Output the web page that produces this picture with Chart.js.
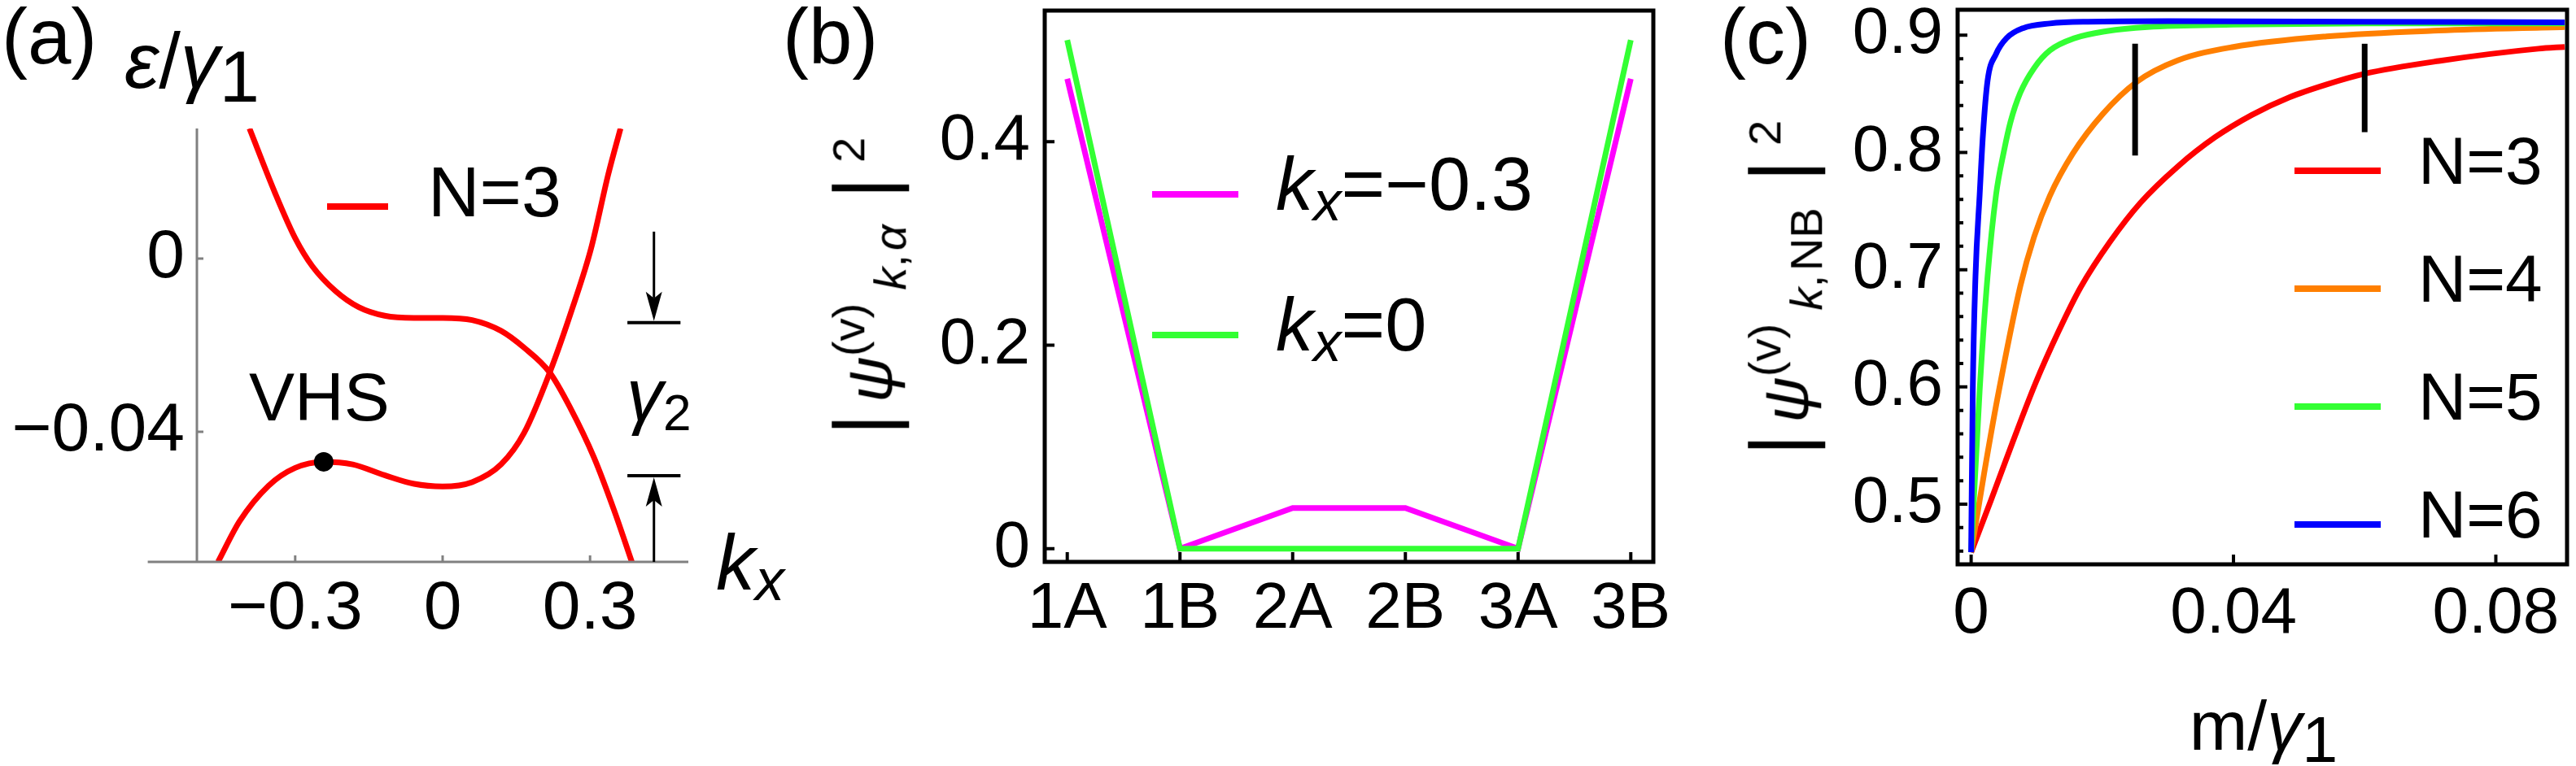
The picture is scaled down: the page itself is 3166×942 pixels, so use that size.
<!DOCTYPE html>
<html>
<head>
<meta charset="utf-8">
<script src="https://cdn.jsdelivr.net/npm/chart.js@4/dist/chart.umd.min.js"></script>
<style>
  html, body { margin: 0; padding: 0; background: #fff; }
  #fig { position: relative; width: 3166px; height: 942px; overflow: hidden;
         font-family: "Liberation Sans", Arial, sans-serif; color: #000; }
  #fig canvas { position: absolute; top: 0; }
  .t { position: absolute; white-space: nowrap; line-height: 1; }
  .t i { font-style: italic; }
  .sub { position: relative; font-size: 0.72em; top: 0.3em; }
  .sup { position: relative; font-size: 0.72em; top: -0.6em; }
  .bar { font-size: 1.3em; }
  .sw { position: absolute; }
</style>
</head>
<body>
<div id="fig">
  <canvas id="chartA" width="1000" height="942" style="left:0px"></canvas>
  <canvas id="chartB" width="1000" height="942" style="left:1100px"></canvas>
  <canvas id="chartC" width="916" height="942" style="left:2250px"></canvas>
</div>
<script>
const FONT = '"Liberation Sans", Arial, sans-serif';

// (a) N=3 bands near the VHS
const kxUpper  = [-0.393, -0.342, -0.300, -0.265, -0.218, -0.171, -0.118, -0.058, 0.000, 0.060, 0.119, 0.166, 0.218, 0.260, 0.308, 0.349, 0.385];
const epsUpper = [0.0300, 0.0154, 0.0047, -0.0018, -0.0075, -0.0112, -0.0132, -0.0137, -0.0137, -0.0142, -0.0167, -0.0206, -0.0263, -0.0345, -0.0459, -0.0581, -0.0700];
const kxLower  = [-0.457, -0.413, -0.354, -0.300, -0.242, -0.183, -0.118, -0.058, 0.000, 0.060, 0.119, 0.166, 0.218, 0.266, 0.302, 0.337, 0.362];
const epsLower = [-0.0700, -0.0606, -0.0524, -0.0483, -0.0469, -0.0475, -0.0500, -0.0520, -0.0526, -0.0516, -0.0475, -0.0402, -0.0263, -0.0108, 0.0023, 0.0194, 0.0300];
const vhsPoint = [-0.242, -0.0469];
const gapLevels = [-0.0148, -0.0501];
const gapTails = [0.0062, -0.0700];
const gapX = 0.43;
const gapBar = [0.376, 0.484];
const aXTicks = [-0.3, 0, 0.3];
const aXLabels = ['\u22120.3', '0', '0.3'];
const aYTicks = [-0.04, 0];
const aYLabels = ['\u22120.04', '0'];

// (b) site weights
const sites = ['1A', '1B', '2A', '2B', '3A', '3B'];
const probKm03 = [0.462, 0, 0.040, 0.040, 0, 0.462];
const probK0 = [0.500, 0, 0, 0, 0, 0.500];
const bYTicks = [0, 0.2, 0.4];
const bYLabels = ['0', '0.2', '0.4'];

// (c) weight on the non-bonding sites vs m
const mN3 = [0, 0.003, 0.0064, 0.0098, 0.0133, 0.0167, 0.0212, 0.0258, 0.0315, 0.0372, 0.0428, 0.0485, 0.0542, 0.0599, 0.0713, 0.0865, 0.0905];
const pN3 = [0.459, 0.503, 0.554, 0.603, 0.647, 0.685, 0.724, 0.757, 0.788, 0.813, 0.832, 0.847, 0.858, 0.867, 0.878, 0.8885, 0.890];
const mN4 = [0, 0.002, 0.004, 0.0075, 0.0096, 0.012, 0.0155, 0.0201, 0.0252, 0.0315, 0.04, 0.0542, 0.0713, 0.0905];
const pN4 = [0.459, 0.527, 0.590, 0.686, 0.728, 0.763, 0.799, 0.833, 0.860, 0.8785, 0.890, 0.899, 0.904, 0.907];
const mN5 = [0, 0.0013, 0.0025, 0.0038, 0.005, 0.006, 0.0075, 0.0096, 0.012, 0.0158, 0.0207, 0.0269, 0.04, 0.06, 0.0905];
const pN5 = [0.459, 0.597, 0.694, 0.764, 0.801, 0.826, 0.851, 0.872, 0.887, 0.8975, 0.9035, 0.907, 0.909, 0.910, 0.910];
const mN6 = [0, 0.00025, 0.00066, 0.0013, 0.0018, 0.0025, 0.0038, 0.0054, 0.0079, 0.012, 0.0178, 0.03, 0.06, 0.0905];
const pN6 = [0.459, 0.597, 0.694, 0.764, 0.815, 0.861, 0.884, 0.8975, 0.906, 0.910, 0.9115, 0.912, 0.9115, 0.911];
const markerM = [0.025, 0.06];
const markerLo = [0.7973, 0.8173];
const markerHi = [0.8927, 0.8927];
const cXTicks = [0, 0.04, 0.08];
const cXLabels = ['0', '0.04', '0.08'];
const cYTicks = [0.5, 0.6, 0.7, 0.8, 0.9];
const cYLabels = ['0.5', '0.6', '0.7', '0.8', '0.9'];
const cYMinor = [0.46, 0.48, 0.52, 0.54, 0.56, 0.58, 0.62, 0.64, 0.66, 0.68, 0.72, 0.74, 0.76, 0.78, 0.82, 0.84, 0.86, 0.88];

function xy(xs, ys) {
  return xs.map((x, i) => ({ x: x, y: ys[i] }));
}

function curve(points, color) {
  return { data: points, showLine: true, borderColor: color, borderWidth: 7, pointRadius: 0,
           cubicInterpolationMode: 'monotone', fill: false };
}

function axis(min, max, ticks, labels, size, pad, fit, isX) {
  return {
    type: 'linear', min: min, max: max,
    border: { display: false },
    grid: { display: false, drawTicks: false, tickLength: 0 },
    afterBuildTicks: s => { s.ticks = ticks.map(v => ({ value: v })); },
    afterFit: s => {
      // fixed box size (labels get clipped to it), and no extra room asked for the end labels
      if (isX) { s.height = fit; s.paddingLeft = 0; s.paddingRight = 0; }
      else { s.width = fit; s.paddingTop = 0; s.paddingBottom = 0; }
    },
    ticks: {
      autoSkip: false, maxRotation: 0, minRotation: 0, padding: pad, color: '#000',
      font: { family: FONT, size: size },
      callback: v => labels[ticks.indexOf(v)]
    }
  };
}

function options(xAxis, yAxis, pad) {
  return {
    responsive: false, animation: false, events: [],
    layout: { padding: pad },
    plugins: { legend: { display: false }, tooltip: { enabled: false } },
    scales: { x: xAxis, y: yAxis }
  };
}

// inward ticks plus either a closed frame or open axes
function mmaAxes(cfg) {
  return {
    id: 'mmaAxes',
    afterDraw(chart) {
      const { ctx, chartArea: ca, scales: { x, y } } = chart;
      ctx.save();
      ctx.strokeStyle = cfg.color;
      ctx.lineWidth = cfg.tickWidth;
      ctx.beginPath();
      cfg.xTicks.forEach(v => {
        const px = x.getPixelForValue(v);
        ctx.moveTo(px, ca.bottom);
        ctx.lineTo(px, ca.bottom - cfg.major);
      });
      cfg.yTicks.forEach(v => {
        const py = y.getPixelForValue(v);
        ctx.moveTo(ca.left, py);
        ctx.lineTo(ca.left + cfg.major, py);
      });
      (cfg.yMinor || []).forEach(v => {
        const py = y.getPixelForValue(v);
        ctx.moveTo(ca.left, py);
        ctx.lineTo(ca.left + cfg.minor, py);
      });
      ctx.stroke();
      ctx.lineWidth = cfg.lineWidth;
      if (cfg.frame) {
        ctx.strokeRect(ca.left, ca.top, ca.right - ca.left, ca.bottom - ca.top);
      } else {
        ctx.beginPath();
        ctx.moveTo(x.getPixelForValue(cfg.xFrom), ca.bottom);
        ctx.lineTo(ca.right, ca.bottom);
        ctx.moveTo(ca.left, ca.bottom);
        ctx.lineTo(ca.left, ca.top);
        ctx.stroke();
      }
      ctx.restore();
    }
  };
}

const gapArrows = {
  id: 'gapArrows',
  afterDraw(chart) {
    const { ctx, scales: { x, y } } = chart;
    const px = x.getPixelForValue(gapX);
    const x1 = x.getPixelForValue(gapBar[0]);
    const x2 = x.getPixelForValue(gapBar[1]);
    ctx.save();
    ctx.strokeStyle = '#000';
    ctx.fillStyle = '#000';
    gapLevels.forEach((lvl, i) => {
      const yb = y.getPixelForValue(lvl);
      const yt = y.getPixelForValue(gapTails[i]);
      const dir = yb > yt ? 1 : -1;
      ctx.lineWidth = 4;
      ctx.beginPath();
      ctx.moveTo(x1, yb);
      ctx.lineTo(x2, yb);
      ctx.stroke();
      ctx.lineWidth = 3;
      ctx.beginPath();
      ctx.moveTo(px, yt);
      ctx.lineTo(px, yb - dir * 30);
      ctx.stroke();
      ctx.beginPath();
      ctx.moveTo(px, yb - dir * 2);
      ctx.lineTo(px - 10, yb - dir * 38);
      ctx.lineTo(px, yb - dir * 30);
      ctx.lineTo(px + 10, yb - dir * 38);
      ctx.closePath();
      ctx.fill();
    });
    ctx.restore();
  }
};

// panel (a)
new Chart(document.getElementById('chartA'), {
  type: 'scatter',
  data: {
    datasets: [
      { data: [{ x: vhsPoint[0], y: vhsPoint[1] }], pointRadius: 12, pointBackgroundColor: '#000',
        pointBorderWidth: 0, showLine: false },
      curve(xy(kxUpper, epsUpper), '#ff0000'),
      curve(xy(kxLower, epsLower), '#ff0000')
    ]
  },
  options: options(
    axis(-0.5, 0.5, aXTicks, aXLabels, 84, 8, 120, true),
    axis(-0.07, 0.03, aYTicks, aYLabels, 84, 15, 238, false),
    { left: 4, right: 154, top: 158, bottom: 131 }
  ),
  plugins: [
    mmaAxes({ frame: false, color: '#808080', lineWidth: 3, tickWidth: 3, major: 8,
              xTicks: aXTicks, yTicks: aYTicks, xFrom: -0.6 }),
    gapArrows
  ]
});

// panel (b)
new Chart(document.getElementById('chartB'), {
  type: 'scatter',
  data: {
    datasets: [
      { data: xy(sites.map((s, i) => i), probK0), showLine: true, borderColor: '#33ff33', borderWidth: 7,
        pointRadius: 0, tension: 0 },
      { data: xy(sites.map((s, i) => i), probKm03), showLine: true, borderColor: '#ff00ff', borderWidth: 7,
        pointRadius: 0, tension: 0 }
    ]
  },
  options: options(
    axis(-0.2, 5.2, sites.map((s, i) => i), sites, 80, 11, 120, true),
    axis(-0.013, 0.529, bYTicks, bYLabels, 80, 18, 150, false),
    { left: 34, right: 68, top: 13, bottom: 131 }
  ),
  plugins: [
    mmaAxes({ frame: true, color: '#000', lineWidth: 5, tickWidth: 4, major: 12,
              xTicks: sites.map((s, i) => i), yTicks: bYTicks })
  ]
});

// panel (c)
new Chart(document.getElementById('chartC'), {
  type: 'scatter',
  data: {
    datasets: [
      { data: [{ x: markerM[0], y: markerLo[0] }, { x: markerM[0], y: markerHi[0] }], showLine: true,
        borderColor: '#000', borderWidth: 7, pointRadius: 0 },
      { data: [{ x: markerM[1], y: markerLo[1] }, { x: markerM[1], y: markerHi[1] }], showLine: true,
        borderColor: '#000', borderWidth: 7, pointRadius: 0 },
      curve(xy(mN6, pN6), '#0000ff'),
      curve(xy(mN5, pN5), '#33ff33'),
      curve(xy(mN4, pN4), '#ff7f00'),
      curve(xy(mN3, pN3), '#ff0000')
    ]
  },
  options: options(
    axis(-0.00206, 0.09086, cXTicks, cXLabels, 80, 14, 120, true),
    axis(0.4487, 0.9217, cYTicks, cYLabels, 80, 18, 130, false),
    { left: 26, right: 11, top: 12, bottom: 128 }
  ),
  plugins: [
    mmaAxes({ frame: true, color: '#000', lineWidth: 5, tickWidth: 4, major: 12, minor: 7,
              xTicks: cXTicks, yTicks: cYTicks, yMinor: cYMinor })
  ]
});

// text and legends
const fig = document.getElementById('fig');

function put(html, x, base, size, align) {
  const d = document.createElement('div');
  d.className = 't';
  d.style.fontSize = size + 'px';
  d.style.left = x + 'px';
  // with line-height 1, Liberation Sans puts the baseline 0.8465em below the box top
  d.style.top = (base - 0.8465 * size) + 'px';
  if (align === 'center') d.style.transform = 'translateX(-50%)';
  d.innerHTML = html;
  fig.appendChild(d);
}

function putRot(html, cx, cy, size) {
  const d = document.createElement('div');
  d.className = 't';
  d.style.fontSize = size + 'px';
  d.style.left = cx + 'px';
  d.style.top = cy + 'px';
  d.style.transform = 'translate(-50%, -50%) rotate(-90deg)';
  d.innerHTML = html;
  fig.appendChild(d);
}

function swatch(x1, x2, y, color) {
  const d = document.createElement('div');
  d.className = 'sw';
  d.style.left = x1 + 'px';
  d.style.top = (y - 4) + 'px';
  d.style.width = (x2 - x1) + 'px';
  d.style.height = '8px';
  d.style.background = color;
  fig.appendChild(d);
}

const kx = '<i>k</i><span style="position:relative;top:0.19em;font-size:0.75em"><i>x</i></span>';

put('(a)', 2, 78, 96);
put('(b)', 962, 78, 96);
put('(c)', 2114, 78, 96);

put('<i>\u03b5</i>/<i>\u03b3</i><span style="position:relative;top:0.19em;font-size:0.92em">1</span>', 153, 108, 96);
put(kx, 880, 725, 96);
put('<i>\u03b3</i><span style="position:relative;top:0.19em;font-size:0.69em">2</span>', 770, 517, 90);
put('VHS', 306, 517, 84);
swatch(402, 477, 254, '#ff0000');
put('N=3', 526, 266, 88);

swatch(1416, 1522, 239, '#ff00ff');
swatch(1416, 1522, 412, '#33ff33');
put(kx + '=\u22120.3', 1568, 258, 92);
put(kx + '=0', 1568, 431, 92);

function psiLabel(sub) {
  return '<span class="bar" style="margin-right:14px">|</span><i>\u03c8</i><span class="sup">(v)</span>' +
         '<span class="sub" style="margin-left:16px">' + sub + '</span>' +
         '<span class="bar" style="margin-left:32px;margin-right:18px">|</span><span class="sup">2</span>';
}
putRot(psiLabel('<i>k</i>,&#8202;<i>\u03b1</i>'), 1061, 352, 78);
putRot(psiLabel('<i>k</i>,&#8202;NB'), 2187, 354, 78);

const legendC = [['N=3', '#ff0000', 210], ['N=4', '#ff7f00', 355], ['N=5', '#33ff33', 500], ['N=6', '#0000ff', 645]];
legendC.forEach(([txt, col, y]) => {
  swatch(2820, 2926, y, col);
  put(txt, 2972, y + 16, 82);
});

put('m/<i>\u03b3</i><span style="position:relative;top:0.19em;font-size:0.92em">1</span>', 2782, 922, 86, 'center');
</script>
</body>
</html>
